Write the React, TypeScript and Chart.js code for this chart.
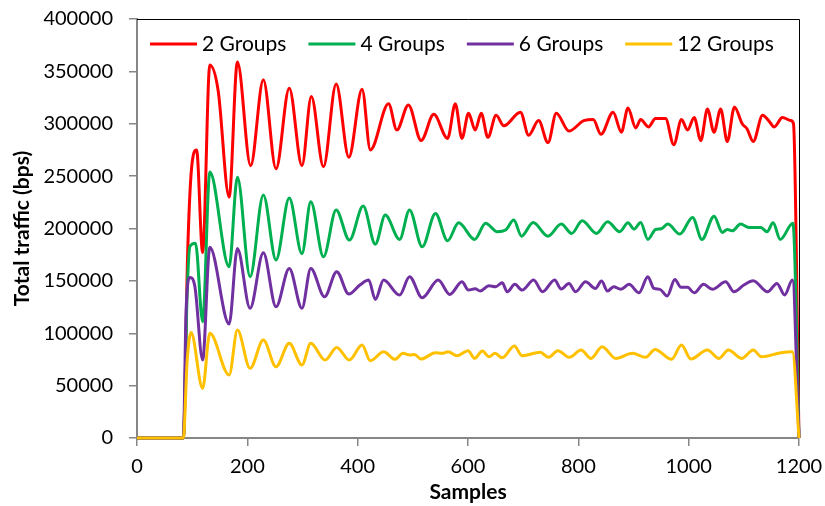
import React, { useEffect, useRef } from 'react';
import { Chart, registerables } from 'chart.js';

Chart.register(...registerables);

const seriesNames = ['2 Groups', '4 Groups', '6 Groups', '12 Groups'];
const seriesColors = ['#FF0000', '#00B050', '#7030A0', '#FFC000'];

const xTickStep = 200;
const xMax = 1200;
const yTickStep = 50000;
const yMax = 400000;

const redX = [0, 84, 92, 99, 108, 119, 132, 147, 167, 182, 206, 229, 252, 276, 299, 316, 338, 361, 384, 408, 423, 456, 471, 492, 515, 538, 563, 577, 589, 601, 613, 624, 636, 651, 665, 695, 710, 728, 745, 760, 783, 810, 827, 841, 863, 878, 890, 904, 913, 927, 940, 958, 973, 987, 998, 1010, 1022, 1034, 1046, 1058, 1070, 1083, 1097, 1106, 1117, 1134, 1145, 1155, 1170, 1185, 1190, 1200];
const redY = [0, 0, 180000, 258000, 275000, 177000, 356000, 332000, 230000, 359000, 260000, 342000, 257000, 334000, 260000, 326000, 259000, 338000, 268000, 333000, 275000, 319000, 294000, 318000, 284000, 309000, 286000, 319000, 286000, 310000, 294000, 310000, 287000, 308000, 298000, 311000, 289000, 303000, 282000, 310000, 293000, 303000, 304000, 290000, 311000, 292000, 315000, 296000, 304000, 297000, 305000, 305000, 280000, 304000, 294000, 306000, 284000, 314000, 292000, 314000, 283000, 316000, 300000, 295000, 283000, 308000, 303000, 297000, 306000, 303000, 300000, 0];

const greenX = [0, 84, 91, 96, 106, 119, 132, 167, 182, 205, 229, 252, 276, 299, 315, 338, 361, 385, 410, 432, 450, 476, 494, 517, 541, 563, 583, 612, 632, 653, 668, 683, 697, 718, 745, 769, 788, 807, 833, 853, 875, 890, 901, 913, 926, 940, 950, 962, 984, 1007, 1024, 1046, 1061, 1070, 1079, 1094, 1109, 1131, 1142, 1153, 1166, 1189, 1200];
const greenY = [0, 0, 140000, 183000, 186000, 111000, 254000, 163500, 249000, 154000, 232000, 170000, 229000, 176000, 225500, 173000, 217600, 189000, 221400, 185000, 212800, 189600, 217600, 182500, 214400, 188300, 205400, 189600, 204900, 196900, 198500, 208000, 192700, 205800, 192700, 204200, 195300, 207300, 195300, 206400, 196900, 205400, 199400, 205800, 189600, 199100, 199700, 204200, 194700, 210600, 189600, 211800, 196300, 199100, 197800, 204200, 201000, 201000, 196900, 205400, 189600, 205000, 0];

const purpleX = [0, 84, 89, 96, 105, 119, 132, 167, 182, 205, 229, 252, 276, 299, 315, 340, 362, 384, 404, 420, 432, 447, 476, 494, 517, 546, 567, 589, 601, 613, 622, 638, 650, 662, 671, 685, 698, 719, 735, 757, 769, 783, 795, 813, 831, 842, 853, 864, 877, 892, 910, 926, 937, 948, 961, 975, 986, 998, 1010, 1027, 1043, 1067, 1082, 1100, 1117, 1143, 1160, 1174, 1188, 1200];
const purpleY = [0, 0, 122000, 153300, 144400, 74400, 182000, 108800, 181000, 123800, 176800, 125300, 161900, 123800, 161900, 134800, 158700, 137400, 146000, 150800, 132300, 150800, 136500, 153900, 133900, 150800, 137100, 149100, 141200, 142500, 140300, 145400, 144400, 148200, 139600, 146700, 141200, 150800, 139600, 150800, 142200, 147600, 139600, 149100, 142800, 149800, 140300, 144400, 141900, 146700, 138600, 153900, 142800, 141900, 135500, 151400, 143800, 143800, 138600, 146700, 141900, 149100, 139600, 146000, 150100, 139600, 147600, 136500, 150800, 0];

const yellowX = [0, 84, 91, 98, 119, 132, 167, 182, 205, 229, 252, 276, 299, 315, 341, 362, 385, 408, 423, 447, 468, 482, 494, 503, 515, 541, 553, 564, 580, 600, 612, 626, 638, 649, 662, 684, 698, 731, 746, 763, 784, 805, 823, 843, 868, 898, 922, 939, 969, 987, 1004, 1034, 1055, 1072, 1096, 1117, 1132, 1167, 1188, 1200];
const yellowY = [0, 0, 74000, 100800, 47400, 99900, 60100, 103000, 66500, 93500, 68000, 90400, 69700, 90400, 74400, 86500, 74400, 88700, 73800, 82300, 75100, 80800, 79200, 79800, 75400, 81400, 80800, 82300, 78500, 83300, 76000, 83000, 77600, 80800, 76600, 87800, 78500, 81800, 77000, 83300, 77000, 84000, 76000, 87100, 76000, 80800, 77000, 84600, 75100, 88700, 75400, 84000, 76000, 84000, 76000, 84000, 77600, 81400, 82300, 0];

const seriesX = [redX, greenX, purpleX, yellowX];
const seriesY = [redY, greenY, purpleY, yellowY];

const FONT = "Lato, 'Open Sans', sans-serif";

const toPoints = (xs: number[], ys: number[]) => xs.map((x, i) => ({ x, y: ys[i] }));

const framePlugin = {
  id: 'frameAndLegend',
  beforeDatasetsDraw(chart: any) {
    const { ctx, chartArea: a } = chart;
    ctx.save();
    ctx.strokeStyle = '#000000';
    ctx.lineWidth = 1;
    ctx.beginPath();
    ctx.moveTo(a.left, Math.round(a.top) + 0.5);
    ctx.lineTo(Math.round(a.right) + 0.5, Math.round(a.top) + 0.5);
    ctx.lineTo(Math.round(a.right) + 0.5, a.bottom);
    ctx.stroke();
    ctx.restore();
  },
  afterDraw(chart: any) {
    const { ctx, chartArea: a } = chart;
    ctx.save();
    ctx.font = `21px ${FONT}`;
    ctx.textBaseline = 'middle';
    ctx.textAlign = 'left';
    let x = a.left + 13;
    const y = a.top + 25;
    seriesNames.forEach((name, i) => {
      ctx.strokeStyle = seriesColors[i];
      ctx.lineWidth = 3;
      ctx.beginPath();
      ctx.moveTo(x, y);
      ctx.lineTo(x + 47, y);
      ctx.stroke();
      ctx.fillStyle = '#000000';
      ctx.fillText(name, x + 52, y);
      x += 52 + ctx.measureText(name).width + 22;
    });
    ctx.restore();
  },
};

export default function App() {
  const canvasRef = useRef<HTMLCanvasElement | null>(null);

  useEffect(() => {
    if (!canvasRef.current) return;
    const chart = new Chart(canvasRef.current, {
      type: 'line',
      data: {
        datasets: seriesNames.map((name, i) => ({
          label: name,
          data: toPoints(seriesX[i], seriesY[i]),
          borderColor: seriesColors[i],
          backgroundColor: seriesColors[i],
          borderWidth: 3,
          pointRadius: 0,
          cubicInterpolationMode: 'monotone' as const,
          fill: false,
          clip: false as any,
          order: seriesNames.length - i,
        })),
      },
      options: {
        animation: false,
        responsive: false,
        layout: { padding: { left: 0, top: 19, right: 26, bottom: 0 } },
        plugins: {
          legend: { display: false },
          tooltip: { enabled: false },
        },
        scales: {
          x: {
            type: 'linear',
            min: 0,
            max: xMax,
            afterFit: (s: any) => { s.height = 68; s.paddingLeft = 0; s.paddingRight = 0; },
            ticks: {
              stepSize: xTickStep,
              color: '#000000',
              font: { family: FONT, size: 20 },
              padding: 9,
              maxRotation: 0,
              callback: (v: any) => String(v),
            },
            grid: { display: true, drawOnChartArea: false, drawTicks: true, tickLength: 8, color: '#868686', lineWidth: 1.5 },
            border: { display: true, color: '#868686', width: 2 },
            title: {
              display: true,
              text: 'Samples',
              color: '#000000',
              font: { family: FONT, size: 21, weight: 'bold' },
              padding: { top: 0, bottom: 1 },
            },
          },
          y: {
            type: 'linear',
            min: 0,
            max: yMax,
            afterFit: (s: any) => { s.width = 137; s.paddingTop = 0; s.paddingBottom = 0; },
            ticks: {
              stepSize: yTickStep,
              color: '#000000',
              font: { family: FONT, size: 20 },
              padding: 16,
              callback: (v: any) => String(v),
            },
            grid: { display: true, drawOnChartArea: false, drawTicks: true, tickLength: 8, color: '#868686', lineWidth: 1.5 },
            border: { display: true, color: '#868686', width: 2 },
            title: {
              display: true,
              text: 'Total traffic (bps)',
              color: '#000000',
              font: { family: FONT, size: 21, weight: 'bold' },
              padding: { top: 10, bottom: 0 },
            },
          },
        },
      },
      plugins: [framePlugin],
    });
    return () => chart.destroy();
  }, []);

  return (
    <div style={{ position: 'absolute', left: 0, top: 0, width: 825, height: 506, background: '#ffffff' }}>
      <canvas ref={canvasRef} width={825} height={506} />
    </div>
  );
}
